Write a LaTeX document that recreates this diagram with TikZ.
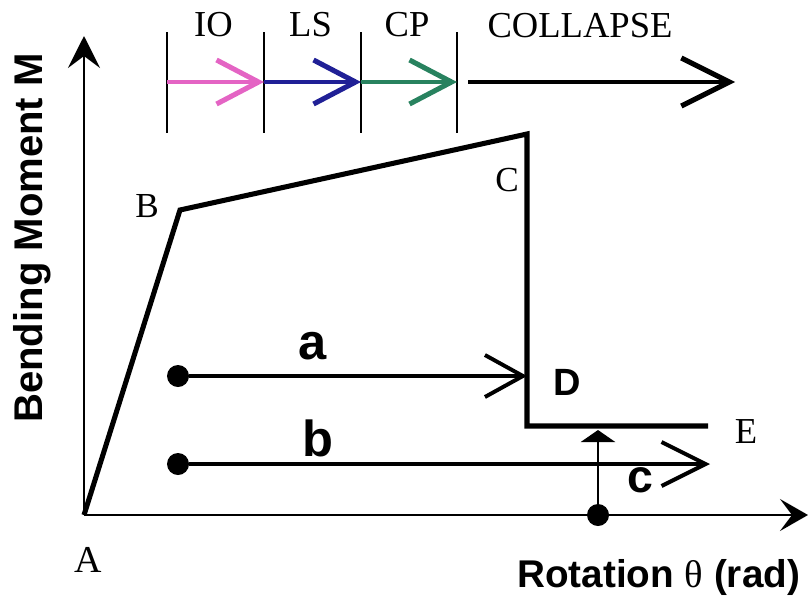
\documentclass[tikz,border=0pt]{standalone}
\usepackage{fontspec}
\setmainfont{Liberation Serif}
\setsansfont{Liberation Sans}
\usetikzlibrary{arrows.meta,calc}

\definecolor{iopink}{RGB}{228,100,196}
\definecolor{lsblue}{RGB}{32,32,150}
\definecolor{cpgreen}{RGB}{40,130,95}

\begin{document}
\begin{tikzpicture}[x=0.025cm,y=-0.025cm,>=Stealth,
    axis/.style={line width=1.6pt},
    curve/.style={line width=3.6pt,line join=miter},
    flow/.style={line width=2.2pt,-{Straight Barb[length=0.95cm,width=1.05cm,line width=2.8pt]}},
    stage/.style={line width=3.2pt,-{Straight Barb[length=1.05cm,width=1.1cm,line width=3.6pt]}},
    dot/.style={circle,fill=black,inner sep=0pt,minimum size=0.55cm},
    pt/.style={font=\fontsize{25}{28}\selectfont},
    lbl/.style={font=\sffamily\bfseries\fontsize{27}{30}\selectfont},
    path lbl/.style={font=\sffamily\bfseries\fontsize{36}{40}\selectfont},
    axlbl/.style={font=\sffamily\bfseries\fontsize{28.5}{32}\selectfont}]
\useasboundingbox (0,0) rectangle (808,599);

% === Axes ===
\coordinate (A) at (84,515);
\coordinate (ytop) at (84,36);
\coordinate (xend) at (808,515);
\draw[axis,-{Stealth[length=0.8cm,width=0.8cm,inset=0.3cm]}] (A) -- (ytop);
\draw[axis,-{Stealth[length=0.7cm,width=0.8cm,inset=0.3cm]}] (A) -- (xend);
\node[axlbl,rotate=90] (ylabel) at (32,238) {Bending Moment M};
\node[axlbl,font=\sffamily\bfseries\fontsize{27.5}{32}\selectfont,anchor=west,inner sep=0pt]
    (xlabel) at (517,577) {Rotation {\rmfamily\mdseries θ} (rad)};

% === Moment--rotation curve ===
\coordinate (B) at (180,210);
\coordinate (C) at (527,134);
\coordinate (D) at (527,426);
\coordinate (E) at (708,426);
\draw[curve] (A) -- (B) -- (C) -- (D) -- (E);
\node[pt,font=\fontsize{27}{30}\selectfont] (Alabel) at (88,560) {A};
\node[pt] (Blabel) at (147,206) {B};
\node[pt] (Clabel) at (507,180) {C};
\node[lbl] (Dlabel) at (567,382) {D};
\node[pt,font=\fontsize{26}{28}\selectfont] (Elabel) at (746,432) {E};

% === Performance levels ===
\foreach \i/\x in {1/167, 2/264, 3/361, 4/457} {
    \coordinate (t\i) at (\x,82);
    \draw[line width=0.9pt] (\x,32) -- (\x,133);
}
\foreach \i/\j/\col/\txt in {1/2/iopink/IO, 2/3/lsblue/LS, 3/4/cpgreen/CP} {
    \draw[stage,\col] (t\i) -- (t\j);
    \node[pt,font=\fontsize{26}{28}\selectfont] (lev\i) at ($(t\i)!0.5!(t\j)+(-2,-57)$) {\txt};
}
\coordinate (c1) at (468,82);
\coordinate (c2) at (735,82);
\draw[stage,-{Straight Barb[length=1.2cm,width=1.2cm,line width=3.6pt]}] (c1) -- (c2);
\node[pt,font=\fontsize{26}{28}\selectfont] (collapse) at (580,26) {COLLAPSE};

% === Load paths ===
\node[dot] (a0) at (178,376) {};
\coordinate (a1) at (527,376);
\draw[flow] (a0) -- (a1);
\node[path lbl] (alabel) at (313,346) {a};

\node[dot] (b0) at (178,464) {};
\coordinate (b1) at (710,464);
\draw[flow,-{Straight Barb[length=1.1cm,width=1.1cm,line width=2.8pt]}] (b0) -- (b1);
\node[path lbl] (blabel) at (318,438) {b};

\node[dot] (c0) at (598,515) {};
\coordinate (cend) at (598,430);
\draw[line width=2pt,-{Triangle[length=0.3cm,width=0.85cm]}] (c0) -- (cend);
\node[path lbl,font=\sffamily\bfseries\fontsize{33}{36}\selectfont] (clabel) at (640,480) {c};
\end{tikzpicture}
\end{document}
